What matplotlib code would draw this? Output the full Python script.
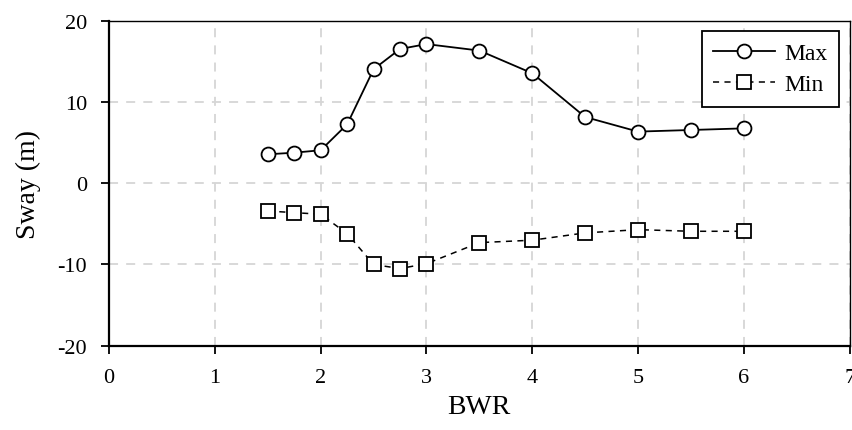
import matplotlib
matplotlib.use("Agg")
import matplotlib.pyplot as plt

plt.rcParams['font.family'] = ['Liberation Serif', 'DejaVu Serif']
plt.rcParams['axes.unicode_minus'] = False

# Данні
bwr = [1.5, 1.75, 2.0, 2.25, 2.5, 2.75, 3.0, 3.5, 4.0, 4.5, 5.0, 5.5, 6.0]
sway_max = [3.6, 3.8, 4.1, 7.3, 14.1, 16.6, 17.2, 16.4, 13.6, 8.2, 6.4, 6.6, 6.8]
sway_min = [-3.4, -3.6, -3.8, -6.2, -10.0, -10.5, -9.9, -7.3, -7.0, -6.1, -5.7, -5.9, -5.9]

fig = plt.figure(figsize=(8.53, 4.31), dpi=100)
ax = fig.add_axes([0.128, 0.196, 0.868, 0.752])

ax.plot(bwr, sway_max, color='black', linestyle='-', marker='o', markersize=10,
        markerfacecolor='white', markeredgecolor='black', markeredgewidth=1.3,
        linewidth=1.3, label='Max')
ax.plot(bwr, sway_min, color='black', linestyle=(0, (4, 3.5)), marker='s',
        markersize=9.5, markerfacecolor='white', markeredgecolor='black',
        markeredgewidth=1.3, linewidth=1.1, label='Min')

ax.set_xlim(0, 7)
ax.set_ylim(-20, 20)
ax.set_xticks(range(0, 8))
ax.set_yticks([-20, -10, 0, 10, 20])
ax.grid(True, color='#d6d6d6', linestyle=(0, (5, 4.5)), linewidth=1.3)
ax.set_axisbelow(True)

ax.tick_params(direction='out', length=6, width=1.3, labelsize=16)
ax.tick_params(axis='y', pad=10)
ax.tick_params(axis='x', pad=10)
for s in ax.spines.values():
    s.set_linewidth(1.0)
ax.spines['left'].set_linewidth(1.6)
ax.spines['bottom'].set_linewidth(1.6)

ax.set_xlabel('BWR', fontsize=20, labelpad=5)
ax.set_ylabel('Sway (m)', fontsize=20, labelpad=12)

leg = ax.legend(loc='upper right', fontsize=17, fancybox=False, framealpha=1,
                edgecolor='black', borderpad=0.5, handlelength=2.6,
                labelspacing=0.4, handletextpad=0.4, borderaxespad=0,
                bbox_to_anchor=(0.986, 0.971))
leg.get_frame().set_linewidth(1.3)

fig.savefig('out.png', dpi=100)
